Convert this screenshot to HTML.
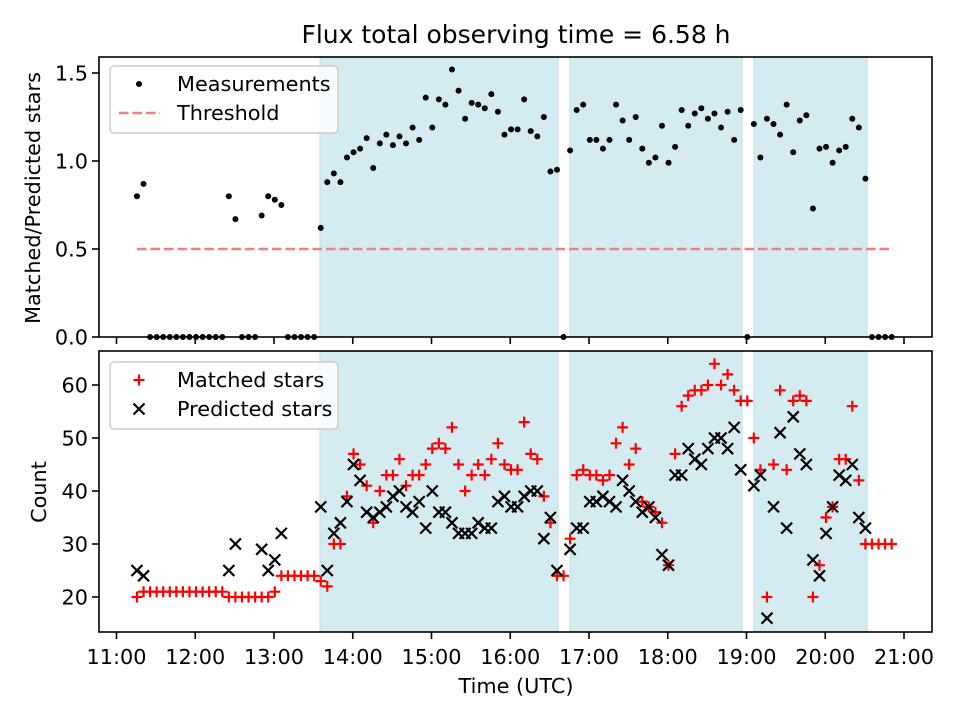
<!DOCTYPE html>
<html><head><meta charset="utf-8"><style>
html,body{margin:0;padding:0;background:#fff;}
svg{display:block;font-family:"DejaVu Sans","Liberation Sans",sans-serif;}
</style></head><body>
<svg id="chart" width="960" height="720" viewBox="0 0 960 720">
<rect width="960" height="720" fill="#fff"/>
<text x="516" y="43" font-size="25" text-anchor="middle">Flux total observing time = 6.58 h</text>
<g id="topPanel"></g>
<g id="botPanel"></g>
<text x="516" y="693" font-size="20.8" text-anchor="middle">Time (UTC)</text>
<text transform="translate(40,198) rotate(-90)" font-size="20.8" text-anchor="middle">Matched/Predicted stars</text>
<text transform="translate(46,492) rotate(-90)" font-size="20.8" text-anchor="middle">Count</text>
</svg>
<script>
// ---- data ----
const startHour = 11.26;
const stepHours = 5.0/60;
const ratio = [0.80,0.87,0,0,0,0,0,0,0,0,0,0,0,0,0.80,0.67,0,0,0,0.69,0.80,0.78,0.75,0,0,0,0,0,0.62,0.88,
0.93,0.88,1.02,1.05,1.07,1.13,0.96,1.10,1.15,1.09,1.14,1.10,1.19,1.12,1.36,1.19,1.35,1.32,1.52,1.40,
1.24,1.33,1.32,1.30,1.38,1.28,1.15,1.18,1.18,1.35,1.17,1.14,1.25,0.94,0.95,0,1.06,1.29,1.32,1.12,
1.12,1.07,1.12,1.32,1.23,1.12,1.25,1.07,0.99,1.02,1.20,0.99,1.08,1.29,1.20,1.27,1.30,1.24,1.27,1.19,
1.28,1.12,1.29,0,1.21,1.02,1.24,1.21,1.15,1.32,1.05,1.23,1.26,0.73,1.07,1.08,0.99,1.06,1.08,1.24,
1.19,0.90,0,0,0,0];
const matched = [20,21,21,21,21,21,21,21,21,21,21,21,21,21,20,20,20,20,20,20,20,21,24,24,24,24,24,24,23,22,
30,30,39,47,45,41,34,40,43,43,46,41,43,43,45,48,49,48,52,45,
40,43,45,43,46,49,45,44,44,53,47,46,39,34,24,24,31,43,44,43,
43,42,43,49,52,45,48,38,37,36,34,26,47,56,58,59,59,60,64,60,
62,59,57,57,50,44,20,45,59,44,57,58,57,20,26,35,37,46,46,56,
42,30,30,30,30,30];
const predicted = [25,24,null,null,null,null,null,null,null,null,null,null,null,null,25,30,null,null,null,29,25,27,32,null,null,null,null,null,37,25,
32,34,38,45,42,36,35,36,37,39,40,37,36,38,33,40,36,36,34,32,
32,32,34,33,33,38,39,37,37,39,40,40,31,35,25,null,29,33,33,38,
38,39,38,37,42,40,38,36,37,35,28,26,43,43,48,46,45,48,50,50,
48,52,44,null,41,43,16,37,51,33,54,47,45,27,24,32,37,43,42,45,
35,33,null,null,null,null];
const shadeSpans = [[13.584,16.606],[16.759,18.943],[19.095,20.53]];
const threshold = 0.5;
const xTickLabels = ["11:00","12:00","13:00","14:00","15:00","16:00","17:00","18:00","19:00","20:00","21:00"];
const topTicks = [0,0.5,1.0,1.5];
const botTicks = [20,30,40,50,60];

// ---- axes ----
const NS="http://www.w3.org/2000/svg";
const L=99,R=932,T1=57,B1=337,T2=351,B2=632;
const xS = h => 116.5 + (h-11)*78.75;
const yTop = v => 337 - v*176;
const yBot = v => 597 - (v-20)*5.3;
function mk(tag,attrs,parent){const e=document.createElementNS(NS,tag);for(const k in attrs)e.setAttribute(k,attrs[k]);parent.appendChild(e);return e;}
const times = ratio.map((_,i)=>startHour+i*stepHours);

function panel(g,T,B,yF,ticks,fmt,nm){
  shadeSpans.forEach(s=>{
    const r=mk('rect',{x:xS(s[0]),y:T,width:xS(s[1])-xS(s[0]),height:B-T,fill:'#d5ebf2',stroke:'#bddde8','stroke-width':1},g);
    
    
  });
  xTickLabels.forEach((lab,i)=>{
    const x=xS(11+i);
    const t=mk('line',{x1:x,x2:x,y1:B,y2:B+7,stroke:'#000','stroke-width':1.6},g);
    
    
  });
  ticks.forEach(v=>{
    const y=yF(v);
    const t=mk('line',{x1:L-7,x2:L,y1:y,y2:y,stroke:'#000','stroke-width':1.6},g);
    
    
    const tx=mk('text',{x:L-11,y:y+7.5,'font-size':20.8,'text-anchor':'end'},g);
    tx.textContent=fmt(v);
    
    
  });
}
const topG=document.getElementById('topPanel'), botG=document.getElementById('botPanel');
panel(topG,T1,B1,yTop,topTicks,v=>v.toFixed(1),'top');
panel(botG,T2,B2,yBot,botTicks,v=>String(v),'bottom');

// threshold
const th=mk('line',{x1:xS(times[0]),x2:xS(times[times.length-1]),y1:yTop(threshold),y2:yTop(threshold),stroke:'#f08080','stroke-width':2.5,'stroke-dasharray':'9.5 4'},topG);


// ratio points
ratio.forEach((v,i)=>{
  const c=mk('circle',{cx:xS(times[i]),cy:yTop(v),r:3,fill:'#000'},topG);
  
  
});
// counts
matched.forEach((v,i)=>{
  if(v==null)return;const x=xS(times[i]),y=yBot(v),s=5.5;
  const p=mk('path',{d:`M${x-s},${y}H${x+s}M${x},${y-s}V${y+s}`,stroke:'#ff0000','stroke-width':2.2,fill:'none'},botG);
  
  
});
predicted.forEach((v,i)=>{
  if(v==null)return;const x=xS(times[i]),y=yBot(v),s=5.5;
  const p=mk('path',{d:`M${x-s},${y-s}L${x+s},${y+s}M${x-s},${y+s}L${x+s},${y-s}`,stroke:'#000','stroke-width':2.2,fill:'none'},botG);
  
  
});
// frames
[[topG,T1,B1],[botG,T2,B2]].forEach(a=>{
  const f=mk('rect',{x:L,y:a[1],width:R-L,height:a[2]-a[1],fill:'none',stroke:'#000','stroke-width':1.6},a[0]);
  
  
});
// x tick labels (bottom panel)
xTickLabels.forEach((lab,i)=>{
  const t=mk('text',{x:xS(11+i),y:664,'font-size':20.8,'text-anchor':'middle'},botG);
  t.textContent=lab;
  
  
});
// legends
function legend(g,y0,items,nm){
  const box=mk('rect',{x:110,y:y0,width:228,height:67,rx:4,fill:'rgba(255,255,255,0.8)',stroke:'#ccc','stroke-width':1.5},g);
  
  
  items.forEach((it,k)=>{
    const y=y0+18+k*29;
    it.draw(g,139,y);
    const t=mk('text',{x:177,y:y+7,'font-size':20.8},g);
    t.textContent=it.label;
    
    
  });
}
legend(topG,66,[
 {label:'Measurements',draw:(g,x,y)=>{const c=mk('circle',{cx:x,cy:y,r:3,fill:'#000'},g);}},
 {label:'Threshold',draw:(g,x,y)=>{const l=mk('line',{x1:x-20,x2:x+21,y1:y,y2:y,stroke:'#f08080','stroke-width':2.5,'stroke-dasharray':'9.5 4'},g);}}
],'top-legend');
legend(botG,362,[
 {label:'Matched stars',draw:(g,x,y)=>{const p=mk('path',{d:`M${x-5.5},${y}H${x+5.5}M${x},${y-5.5}V${y+5.5}`,stroke:'#f00','stroke-width':2.2},g);}},
 {label:'Predicted stars',draw:(g,x,y)=>{const p=mk('path',{d:`M${x-5.5},${y-5.5}L${x+5.5},${y+5.5}M${x-5.5},${y+5.5}L${x+5.5},${y-5.5}`,stroke:'#000','stroke-width':2.2},g);}}
],'bottom-legend');
</script>
</body></html>
